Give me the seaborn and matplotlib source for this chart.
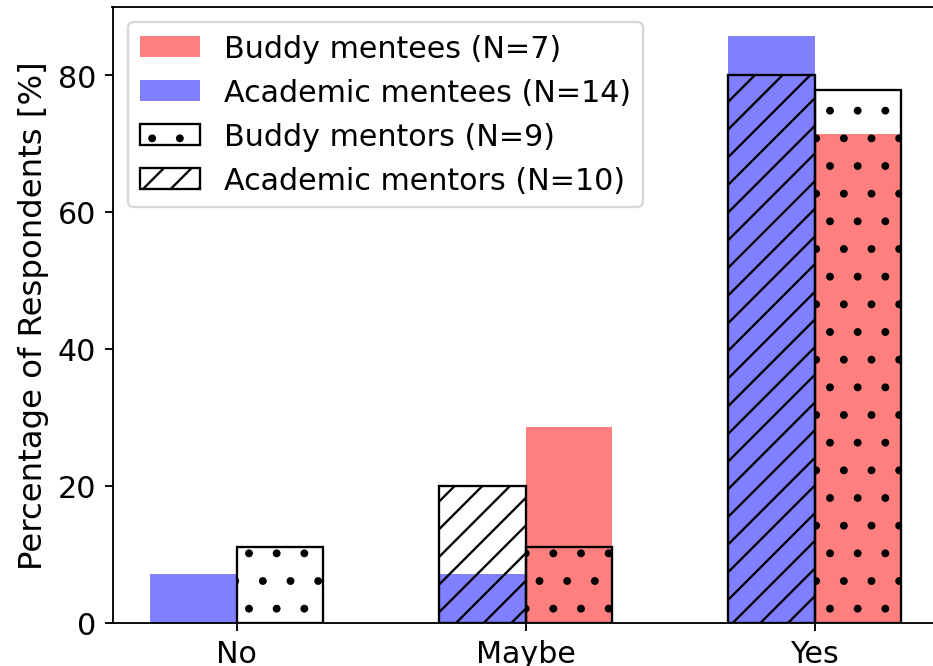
import matplotlib
matplotlib.use("Agg")
import matplotlib.pyplot as plt
import seaborn as sns
import pandas as pd
from matplotlib.patches import Patch

categories = ["No", "Maybe", "Yes"]
academic_mentees = [7.1, 7.1, 85.7]   # N=14
buddy_mentees = [0.0, 28.6, 71.4]     # N=7
buddy_mentors = [11.1, 11.1, 77.8]    # N=9
academic_mentors = [0.0, 20.0, 80.0]  # N=10
programs = ["Academic", "Buddy"]
legend_labels = ["Buddy mentees (N=7)", "Academic mentees (N=14)",
                 "Buddy mentors (N=9)", "Academic mentors (N=10)"]

plt.rcParams["font.size"] = 13

mentees = pd.DataFrame({
    "answer": categories * 2,
    "program": ["Academic"] * 3 + ["Buddy"] * 3,
    "pct": academic_mentees + buddy_mentees,
})
mentors = pd.DataFrame({
    "answer": categories * 2,
    "program": ["Academic"] * 3 + ["Buddy"] * 3,
    "pct": academic_mentors + buddy_mentors,
})

DPI = 166.67
fig = plt.figure(figsize=(933 / DPI, 667 / DPI), dpi=DPI)
ax = fig.add_axes([112.5 / 933, 43 / 667, (939 - 112.5) / 933, (624 - 7.5) / 667])

sns.barplot(data=mentees, x="answer", y="pct", hue="program", order=categories,
            hue_order=programs, palette={"Academic": "blue", "Buddy": "red"},
            saturation=1, width=0.6, dodge=True, alpha=0.5, linewidth=0,
            legend=False, errorbar=None, ax=ax)
n_before = len(ax.patches)
sns.barplot(data=mentors, x="answer", y="pct", hue="program", order=categories,
            hue_order=programs, palette={"Academic": "white", "Buddy": "white"},
            saturation=1, width=0.6, dodge=True, legend=False, errorbar=None, ax=ax)
hatches = {"Academic": "//", "Buddy": "."}
new = ax.patches[n_before:]
for i, p in enumerate(new):
    prog = programs[i // 3]
    p.set_facecolor("none")
    p.set_edgecolor("black")
    p.set_linewidth(1.0)
    p.set_hatch(hatches[prog])
    if p.get_height() == 0:
        p.set_visible(False)
for p in ax.patches[:n_before]:
    if p.get_height() == 0:
        p.set_visible(False)

ax.set_xlim(-0.43, 2.43)
ax.set_ylim(0, 90)
ax.set_yticks([0, 20, 40, 60, 80])
ax.set_xlabel("")
ax.set_ylabel("Percentage of Respondents [%]", fontsize=14)

handles = [
    Patch(facecolor="red", alpha=0.5, linewidth=0, label=legend_labels[0]),
    Patch(facecolor="blue", alpha=0.5, linewidth=0, label=legend_labels[1]),
    Patch(facecolor="none", edgecolor="black", hatch=".", label=legend_labels[2]),
    Patch(facecolor="none", edgecolor="black", hatch="//", label=legend_labels[3]),
]
ax.legend(handles=handles, loc="upper left", fontsize=13)

fig.savefig("out.png", dpi=DPI)
